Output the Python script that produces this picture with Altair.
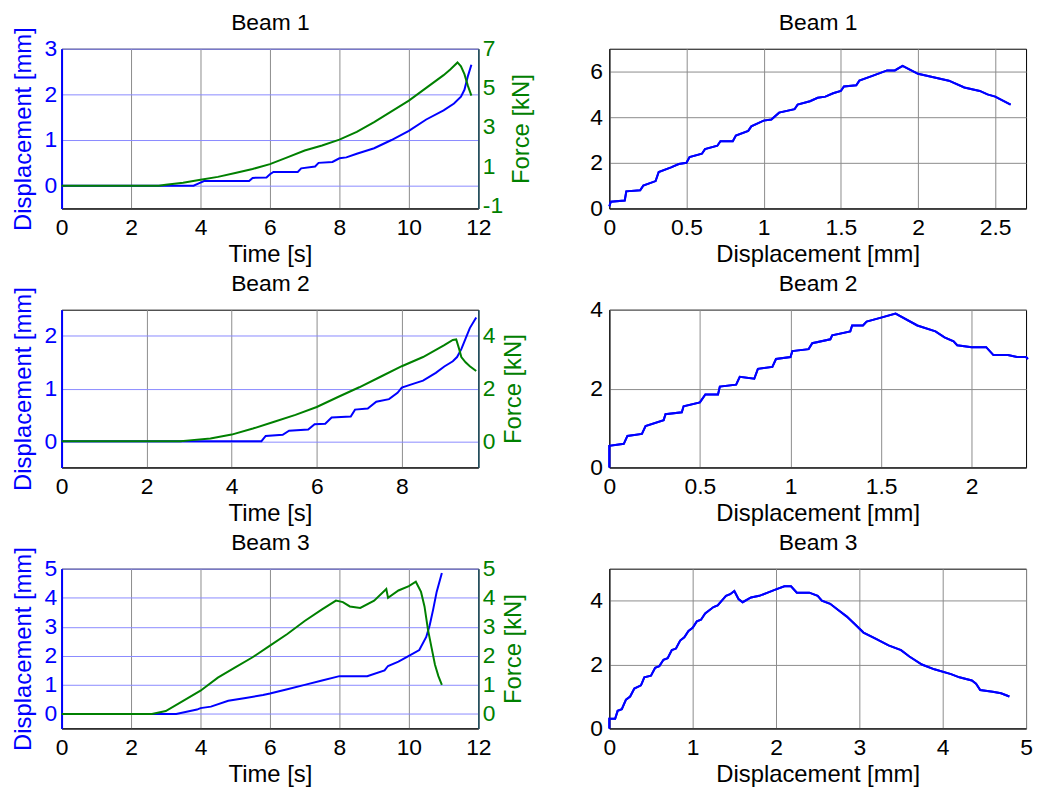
import altair as alt
import pandas as pd

FONT = "Liberation Sans"
BLUE = "#0000ff"
GREEN = "#008000"
RIGHT_EDGE = "#1f4f5f"
GRID_GRAY = "#8c8c8c"
GRID_BLUE = "#8a8aff"

# ---------------- Beam 1 ----------------
b1_td = [0, 3.8, 3.95, 4.1, 5.4, 5.5, 5.9, 6.0, 6.1, 6.8, 6.9, 7.3, 7.4, 7.8, 8.0, 8.2, 8.5, 9.0, 9.5, 10.0, 10.5, 11.0, 11.3, 11.5, 11.6, 11.7, 11.8]
b1_disp = [0, 0, 0.05, 0.1, 0.1, 0.17, 0.18, 0.25, 0.3, 0.3, 0.38, 0.42, 0.5, 0.52, 0.6, 0.62, 0.7, 0.82, 1.0, 1.2, 1.45, 1.65, 1.8, 1.95, 2.1, 2.4, 2.65]
b1_tf = [0, 2.8, 3.0, 3.5, 4.0, 4.5, 5.0, 5.5, 6.0, 6.5, 7.0, 7.5, 8.0, 8.5, 9.0, 9.5, 10.0, 10.5, 11.0, 11.2, 11.4, 11.5, 11.6, 11.7, 11.8]
b1_force = [0, 0, 0.05, 0.15, 0.3, 0.45, 0.65, 0.85, 1.1, 1.45, 1.8, 2.05, 2.35, 2.75, 3.25, 3.8, 4.35, 5.0, 5.65, 5.95, 6.3, 6.1, 5.7, 5.1, 4.6]
b1_fd_disp = [0, 0.01, 0.1, 0.11, 0.2, 0.22, 0.3, 0.32, 0.4, 0.45, 0.5, 0.52, 0.6, 0.62, 0.7, 0.72, 0.8, 0.82, 0.9, 0.92, 1.0, 1.05, 1.1, 1.2, 1.22, 1.3, 1.35, 1.4, 1.45, 1.5, 1.52, 1.6, 1.62, 1.7, 1.8, 1.85, 1.9, 2.0, 2.1, 2.2, 2.3, 2.4, 2.45, 2.5, 2.6]
b1_fd_force = [0.1, 0.3, 0.35, 0.75, 0.8, 1.0, 1.2, 1.6, 1.8, 1.95, 2.0, 2.25, 2.4, 2.6, 2.75, 2.95, 2.95, 3.2, 3.4, 3.6, 3.85, 3.9, 4.2, 4.35, 4.55, 4.7, 4.85, 4.9, 5.05, 5.15, 5.35, 5.4, 5.6, 5.8, 6.05, 6.05, 6.25, 5.9, 5.75, 5.6, 5.3, 5.15, 5.0, 4.9, 4.55]

# ---------------- Beam 2 ----------------
b2_td = [0, 4.7, 4.8, 5.2, 5.35, 5.8, 5.95, 6.2, 6.35, 6.8, 6.9, 7.2, 7.4, 7.7, 7.9, 8.0, 8.3, 8.5, 8.8, 9.0, 9.2, 9.3, 9.4, 9.5, 9.6, 9.75]
b2_disp = [0, 0, 0.1, 0.12, 0.2, 0.22, 0.32, 0.33, 0.45, 0.47, 0.6, 0.62, 0.75, 0.8, 0.92, 1.02, 1.1, 1.15, 1.3, 1.42, 1.52, 1.6, 1.75, 1.95, 2.15, 2.35]
b2_tf = [0, 2.8, 3.0, 3.5, 4.0, 4.5, 5.0, 5.5, 6.0, 6.5, 7.0, 7.5, 8.0, 8.5, 9.0, 9.2, 9.28, 9.35, 9.4, 9.5, 9.6, 9.75]
b2_force = [0, 0, 0.03, 0.1, 0.25, 0.48, 0.74, 1.0, 1.3, 1.68, 2.05, 2.45, 2.85, 3.2, 3.65, 3.85, 3.87, 3.5, 3.2, 3.0, 2.85, 2.67]
b2_fd_disp = [0, 0, 0.08, 0.1, 0.18, 0.2, 0.3, 0.31, 0.4, 0.41, 0.5, 0.53, 0.6, 0.61, 0.7, 0.72, 0.8, 0.82, 0.9, 0.92, 1.0, 1.01, 1.1, 1.12, 1.22, 1.23, 1.33, 1.34, 1.4, 1.42, 1.5, 1.58, 1.7, 1.8, 1.85, 1.9, 1.92, 2.0, 2.08, 2.12, 2.2, 2.25, 2.3, 2.31]
b2_fd_force = [0, 0.55, 0.6, 0.8, 0.85, 1.05, 1.2, 1.35, 1.4, 1.55, 1.65, 1.85, 1.85, 2.05, 2.1, 2.3, 2.25, 2.5, 2.55, 2.75, 2.8, 2.95, 3.0, 3.15, 3.25, 3.35, 3.45, 3.6, 3.6, 3.7, 3.8, 3.9, 3.6, 3.45, 3.3, 3.2, 3.1, 3.05, 3.05, 2.85, 2.85, 2.8, 2.8, 2.75]

# ---------------- Beam 3 ----------------
b3_td = [0, 3.3, 3.9, 4.0, 4.3, 4.8, 5.3, 5.8, 6.0, 6.5, 7.0, 7.5, 8.0, 8.8, 9.3, 9.4, 9.7, 10.0, 10.3, 10.5, 10.6, 10.7, 10.8, 10.95]
b3_disp = [0, 0, 0.15, 0.2, 0.25, 0.45, 0.55, 0.65, 0.7, 0.85, 1.0, 1.15, 1.3, 1.3, 1.5, 1.65, 1.8, 2.0, 2.2, 2.65, 3.05, 3.6, 4.2, 4.85]
b3_tf = [0, 2.6, 3.0, 3.5, 4.0, 4.5, 5.0, 5.5, 6.0, 6.5, 7.0, 7.5, 7.9, 8.1, 8.3, 8.6, 9.0, 9.35, 9.4, 9.7, 10.0, 10.2, 10.35, 10.45, 10.55, 10.65, 10.75, 10.85, 10.95]
b3_force = [0, 0, 0.1, 0.45, 0.8, 1.25, 1.6, 1.95, 2.35, 2.75, 3.2, 3.6, 3.9, 3.85, 3.7, 3.65, 3.9, 4.3, 4.0, 4.25, 4.4, 4.55, 4.2, 3.7, 2.9, 2.3, 1.7, 1.3, 1.0]
b3_fd_disp = [0, 0, 0.07, 0.1, 0.15, 0.2, 0.25, 0.3, 0.38, 0.42, 0.5, 0.55, 0.6, 0.65, 0.7, 0.75, 0.8, 0.85, 0.9, 0.95, 1.0, 1.05, 1.1, 1.15, 1.25, 1.3, 1.35, 1.4, 1.45, 1.5, 1.55, 1.6, 1.7, 1.8, 1.9, 2.0, 2.1, 2.18, 2.25, 2.4, 2.5, 2.55, 2.65, 2.75, 2.85, 2.95, 3.05, 3.2, 3.35, 3.5, 3.6, 3.75, 3.9, 4.1, 4.2, 4.35, 4.4, 4.45, 4.6, 4.7, 4.8]
b3_fd_force = [0, 0.3, 0.3, 0.55, 0.6, 0.9, 1.0, 1.25, 1.35, 1.6, 1.65, 1.9, 1.95, 2.15, 2.2, 2.45, 2.5, 2.75, 2.85, 3.05, 3.15, 3.35, 3.4, 3.6, 3.8, 3.85, 4.0, 4.15, 4.2, 4.3, 4.05, 3.95, 4.1, 4.15, 4.25, 4.35, 4.45, 4.45, 4.25, 4.25, 4.15, 4.0, 3.9, 3.7, 3.5, 3.25, 3.0, 2.8, 2.6, 2.45, 2.25, 2.0, 1.85, 1.7, 1.6, 1.5, 1.4, 1.2, 1.15, 1.1, 1.0]

W = 420
LABEL_EXPR = "datum.value + ''"


def title_axis(text):
    # panel title drawn as a top axis title so it sits at a fixed distance from the plot
    return alt.Axis(orient="top", title=text, labels=False, ticks=False, domain=False,
                    grid=False, tickSize=0, labelPadding=0, titlePadding=14,
                    titleFontSize=23, titleColor="black")


def time_panel(title, td, disp, tf, force, xmax, xticks, ldom, lticks, rdom, rticks, h):
    dfd = pd.DataFrame({"t": td, "v": disp})
    dff = pd.DataFrame({"t": tf, "v": force})
    xs = alt.Scale(domain=[0, xmax], nice=False, zero=False)
    d_line = alt.Chart(dfd).mark_line(color=BLUE, strokeWidth=2).encode(
        x=alt.X("t:Q", scale=xs,
                axis=alt.Axis(orient="bottom", values=xticks, title="Time [s]", grid=True,
                              gridColor=GRID_GRAY, labelExpr=LABEL_EXPR)),
        y=alt.Y("v:Q", scale=alt.Scale(domain=ldom, nice=False, zero=False),
                axis=alt.Axis(orient="left", values=lticks, title="Displacement [mm]",
                              labelColor=BLUE, titleColor=BLUE, domainColor=BLUE,
                              domainWidth=2, grid=True, gridColor=GRID_BLUE,
                              labelPadding=5, titlePadding=9, labelExpr=LABEL_EXPR)))
    f_line = alt.Chart(dff).mark_line(color=GREEN, strokeWidth=2).encode(
        x=alt.X("t:Q", scale=xs, axis=title_axis(title)),
        y=alt.Y("v:Q", scale=alt.Scale(domain=rdom, nice=False, zero=False),
                axis=alt.Axis(orient="right", values=rticks, title="Force [kN]",
                              labelColor=GREEN, titleColor=GREEN, domainColor=RIGHT_EDGE,
                              domainWidth=1.5, grid=False, titleAngle=270,
                              titleBaseline="top", labelPadding=4, titlePadding=7,
                              labelExpr=LABEL_EXPR)))
    return alt.layer(d_line, f_line).resolve_scale(y="independent").resolve_axis(
        x="independent", y="independent").properties(width=W, height=h)


def fd_panel(title, dx, fy, xmax, xticks, ymax, yticks, h):
    df = pd.DataFrame({"d": dx, "f": fy})
    xs = alt.Scale(domain=[0, xmax], nice=False, zero=False)
    ys = alt.Scale(domain=[0, ymax], nice=False, zero=False)
    y_axis = alt.Axis(orient="left", values=yticks, title=None, grid=True, gridColor=GRID_GRAY,
                      labelPadding=7, labelExpr=LABEL_EXPR)
    base = alt.Chart(df).transform_window(idx="row_number()")
    line = base.mark_line(color=BLUE, strokeWidth=2).encode(
        x=alt.X("d:Q", scale=xs,
                axis=alt.Axis(orient="bottom", values=xticks, title="Displacement [mm]",
                              grid=True, gridColor=GRID_GRAY, labelExpr=LABEL_EXPR)),
        y=alt.Y("f:Q", scale=ys, axis=y_axis),
        order=alt.Order("idx:Q"),
    )
    carrier = base.mark_line(color=BLUE, strokeWidth=2).encode(
        x=alt.X("d:Q", scale=xs, axis=title_axis(title)),
        y=alt.Y("f:Q", scale=ys, axis=y_axis),
        order=alt.Order("idx:Q"),
    )
    return alt.layer(line, carrier).resolve_axis(x="independent").properties(width=W, height=h)


p1 = time_panel("Beam 1", b1_td, b1_disp, b1_tf, b1_force, 12, [0, 2, 4, 6, 8, 10, 12],
                [-0.5, 3], [0, 1, 2, 3], [-7 / 6, 7], [-1, 1, 3, 5, 7], 161)
p2 = fd_panel("Beam 1", b1_fd_disp, b1_fd_force, 2.7, [0, 0.5, 1, 1.5, 2, 2.5], 7, [0, 2, 4, 6], 161)
p3 = time_panel("Beam 2", b2_td, b2_disp, b2_tf, b2_force, 9.8, [0, 2, 4, 6, 8],
                [-0.5, 2.5], [0, 1, 2], [-1, 5], [0, 2, 4], 159)
p4 = fd_panel("Beam 2", b2_fd_disp, b2_fd_force, 2.3, [0, 0.5, 1, 1.5, 2], 4, [0, 2, 4], 159)
p5 = time_panel("Beam 3", b3_td, b3_disp, b3_tf, b3_force, 12, [0, 2, 4, 6, 8, 10, 12],
                [-0.5, 5], [0, 1, 2, 3, 4, 5], [-0.5, 5], [0, 1, 2, 3, 4, 5], 161)
p6 = fd_panel("Beam 3", b3_fd_disp, b3_fd_force, 5, [0, 1, 2, 3, 4, 5], 5, [0, 2, 4], 161)

chart = alt.concat(p1, p2, p3, p4, p5, p6, columns=2, spacing={"row": 102, "column": 132},
                   bounds="flush", align="each").properties(
    padding={"left": 2, "top": 0, "right": 0, "bottom": 0}
).configure(
    font=FONT, background="white"
).configure_axis(
    labelFont=FONT, titleFont=FONT, labelFontSize=23, titleFontSize=24,
    titleFontWeight="normal", labelColor="black", titleColor="black",
    domainColor="black", ticks=False, tickSize=0, labelPadding=8, titlePadding=3,
    gridOpacity=1, gridWidth=1, labelFlush=False, labelOverlap=False
).configure_view(
    stroke="black", strokeWidth=1
)

chart.save("out.html", embed_options={"renderer": "svg", "actions": False})
